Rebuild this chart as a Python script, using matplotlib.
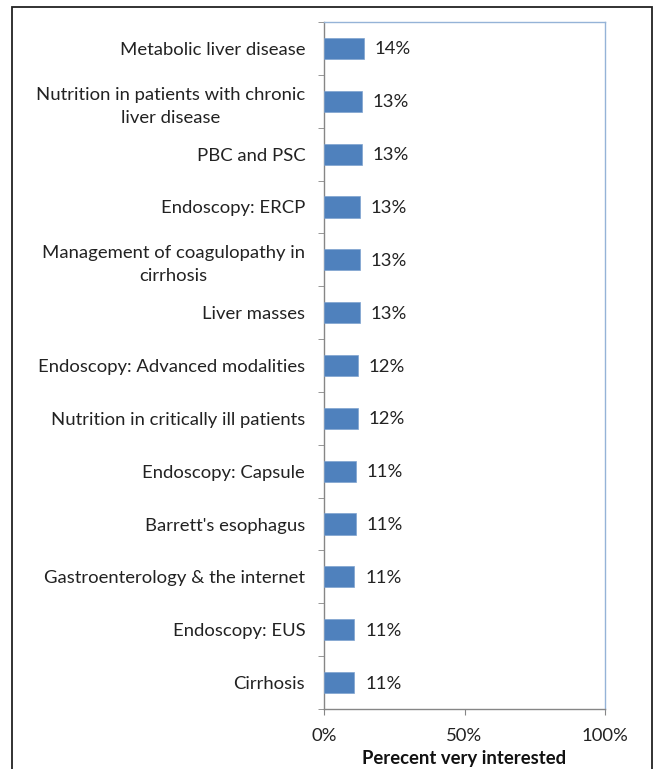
import matplotlib
matplotlib.use("Agg")
import matplotlib.pyplot as plt
import numpy as np
from matplotlib.patches import Rectangle

BAR = "#4F81BD"
FRAME = "#95B3D7"
AXIS = "#868686"

topics = [
    "Metabolic liver disease",
    "Nutrition in patients with chronic\nliver disease",
    "PBC and PSC",
    "Endoscopy: ERCP",
    "Management of coagulopathy in\ncirrhosis",
    "Liver masses",
    "Endoscopy: Advanced modalities",
    "Nutrition in critically ill patients",
    "Endoscopy: Capsule",
    "Barrett's esophagus",
    "Gastroenterology & the internet",
    "Endoscopy: EUS",
    "Cirrhosis",
]
pct_very_interested = [14.1, 13.4, 13.4, 12.8, 12.8, 12.8, 12.1, 12.1, 11.4, 11.4, 10.8, 10.8, 10.8]
x_ticks = [0, 50, 100]

plt.rcParams["font.family"] = ["Lato", "DejaVu Sans"]
FS = 13.3

fig = plt.figure(figsize=(6.58, 7.69), dpi=100)
ax = fig.add_axes([324 / 658, 1 - 709 / 769, 281 / 658, 687 / 769])

y = np.arange(len(topics))
ax.barh(y, pct_very_interested, height=0.4, color=BAR, edgecolor="#7FA3CF", linewidth=0.5, zorder=3)
for yi, v in zip(y, pct_very_interested):
    ax.annotate(f"{v:.0f}%", (v, yi), xytext=(11, -1), textcoords="offset pixels",
                va="center", ha="left", fontsize=FS, color="#222222")

ax.set_xlim(0, 100)
ax.set_ylim(len(topics) - 0.5, -0.5)
ax.set_xticks(x_ticks)
ax.set_xticklabels([f"{t}%" for t in x_ticks], fontsize=FS, color="#222222")
ax.set_yticks(y)
ax.set_yticklabels(topics, fontsize=FS, color="#222222", multialignment="center", linespacing=1.55)
ax.set_yticks(np.arange(len(topics) + 1) - 0.5, minor=True)
ax.tick_params(axis="y", which="major", length=0, pad=13.5)
ax.tick_params(axis="y", which="minor", length=4, color=AXIS, direction="out")
ax.tick_params(axis="x", length=4, color=AXIS, direction="out", pad=10)
ax.set_xlabel("Perecent very interested", fontsize=FS, fontweight="bold", labelpad=4, color="#111111")

ax.spines["left"].set_color(AXIS)
ax.spines["bottom"].set_color(AXIS)
ax.spines["top"].set_color(FRAME)
ax.spines["right"].set_color(FRAME)
for s in ax.spines.values():
    s.set_linewidth(1.0)

# outer chart border
fig.patches.append(Rectangle((12 / 658, -0.05), 640 / 658, 1.05 - 7 / 769, transform=fig.transFigure,
                             fill=False, edgecolor="#222222", linewidth=1.3, clip_on=False))

fig.savefig("out.png", dpi=100)
